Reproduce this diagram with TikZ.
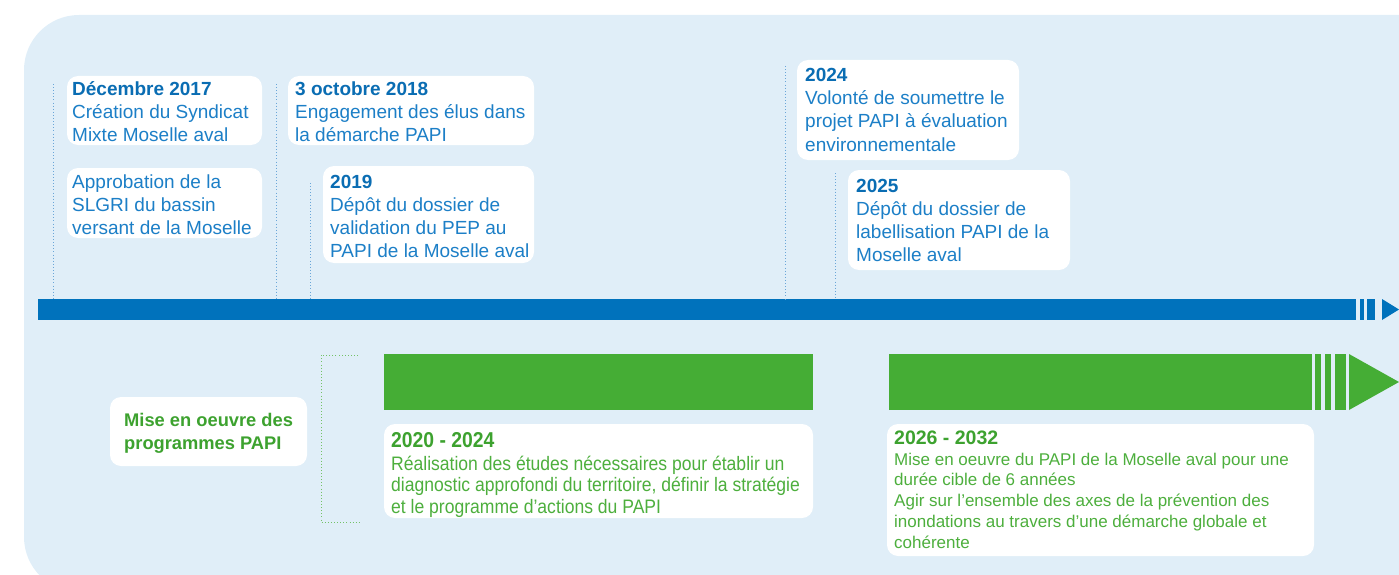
\documentclass[tikz,border=0pt]{standalone}
\usepackage{fontspec}
\setmainfont{Liberation Sans}
\newfontfamily\condfont[FakeStretch=0.9]{Liberation Sans}
\definecolor{bgblue}{HTML}{E0EEF8}
\definecolor{barblue}{HTML}{0072BC}
\definecolor{ttlblue}{HTML}{0A6DB3}
\definecolor{txtblue}{HTML}{1C7FC7}
\definecolor{dotblue}{HTML}{6AA6D8}
\definecolor{bargreen}{HTML}{45AD35}
\definecolor{ttlgreen}{HTML}{3DA22F}
\definecolor{txtgreen}{HTML}{4DAF3D}
\newcommand\mystrut{\rule{0pt}{20pt}}
\tikzset{
  card/.style={fill=white, rounded corners=11pt},
  tb/.style={anchor=north west, inner sep=0pt, align=left, text=txtblue,
    font=\fontsize{19}{23}\selectfont},
  dotline/.style={dotblue, line width=0.9pt, dash pattern=on 0.9pt off 2.2pt},
  gdotline/.style={bargreen!75, line width=0.9pt, dash pattern=on 0.9pt off 2.2pt},
}
\begin{document}
\begin{tikzpicture}[x=1pt,y=-1pt]
\useasboundingbox (0,0) rectangle (1399,575);
\clip (0,0) rectangle (1399,575);
% background panel
\fill[bgblue, rounded corners=55pt] (24,15) rectangle (1470,592);

% blue timeline bar
\fill[barblue] (38,299) rectangle (1356,320);
\fill[barblue] (1360,299) rectangle (1364,320);
\fill[barblue] (1367,299) rectangle (1375,320);
\fill[barblue] (1382,299) -- (1399,309.5) -- (1382,320) -- cycle;

% dotted markers
\coordinate (d1t) at (53,84);  \coordinate (d1b) at (53,299);
\coordinate (d2t) at (276,84); \coordinate (d2b) at (276,299);
\coordinate (d3t) at (310,183);\coordinate (d3b) at (310,299);
\coordinate (d4t) at (785,66); \coordinate (d4b) at (785,299);
\coordinate (d5t) at (835,173);\coordinate (d5b) at (835,299);
\foreach \i in {1,...,5} \draw[dotline] (d\i t) -- (d\i b);

% top cards
\fill[card] (67,76) rectangle (262,145);
\fill[card] (67,168) rectangle (262,238);
\fill[card] (288,76) rectangle (534,145);
\fill[card] (323,166) rectangle (534,263);
\fill[card] (797,60) rectangle (1019,160);
\fill[card] (848,170) rectangle (1070,270);

\node[tb] (e1) at (72,75) {\mystrut{\bfseries\color{ttlblue}Décembre 2017}\\Création du Syndicat\\Mixte Moselle aval};
\node[tb] (e2) at (72,168) {\mystrut Approbation de la\\SLGRI du bassin\\versant de la Moselle};
\node[tb] (e3) at (295,75) {\mystrut{\bfseries\color{ttlblue}3 octobre 2018}\\Engagement des élus dans\\la démarche PAPI};
\node[tb] (e4) at (330,168) {\mystrut{\bfseries\color{ttlblue}2019}\\Dépôt du dossier de\\validation du PEP au\\PAPI de la Moselle aval};
\node[tb, font=\fontsize{19}{23.4}\selectfont] (e5) at (805,61) {\mystrut{\bfseries\color{ttlblue}2024}\\Volonté de soumettre le\\projet PAPI à évaluation\\environnementale};
\node[tb] (e6) at (856,172) {\mystrut{\bfseries\color{ttlblue}2025}\\Dépôt du dossier de\\labellisation PAPI de la\\Moselle aval};

% green section
\fill[card] (110,397) rectangle (307,466);
\node[anchor=north west, inner sep=0pt, align=left, text=ttlgreen,
  font=\fontsize{18.3}{23}\selectfont\bfseries] (mise) at (124,406.5) {\mystrut Mise en oeuvre des\\programmes PAPI};

\coordinate (g1) at (358,355); \coordinate (g2) at (321,355);
\coordinate (g3) at (321,522); \coordinate (g4) at (361,522);
\draw[gdotline] (g1) -- (g2) -- (g3) -- (g4);

\fill[bargreen] (384,354) rectangle (813,410);
\fill[bargreen] (889,354) rectangle (1312,410);
\fill[bargreen] (1315,354) rectangle (1321,410);
\fill[bargreen] (1325,354) rectangle (1331,410);
\fill[bargreen] (1335,354) rectangle (1346,410);
\fill[bargreen] (1349,354) -- (1399,382) -- (1349,410) -- cycle;

\fill[card] (384,424) rectangle (813,518);
\fill[card] (887,424) rectangle (1314,556);

\node[anchor=north west, inner sep=0pt, align=left, text=txtgreen,
  font=\condfont\fontsize{19.5}{21.5}\selectfont] (p1) at (391,427)
  {\mystrut{\fontsize{21.5}{21.5}\selectfont\bfseries\color{ttlgreen}2020 - 2024}\\[1.5pt]Réalisation des études nécessaires pour établir un\\diagnostic approfondi du territoire, définir la stratégie\\et le programme d’actions du PAPI};
\node[anchor=north west, inner sep=0pt, align=left, text=txtgreen,
  font=\fontsize{17}{20.8}\selectfont] (p2) at (894,424)
  {\mystrut{\fontsize{19.5}{20.8}\selectfont\bfseries\color{ttlgreen}2026 - 2032}\\Mise en oeuvre du PAPI de la Moselle aval pour une\\durée cible de 6 années\\Agir sur l’ensemble des axes de la prévention des\\inondations au travers d’une démarche globale et\\cohérente};
\end{tikzpicture}
\end{document}
